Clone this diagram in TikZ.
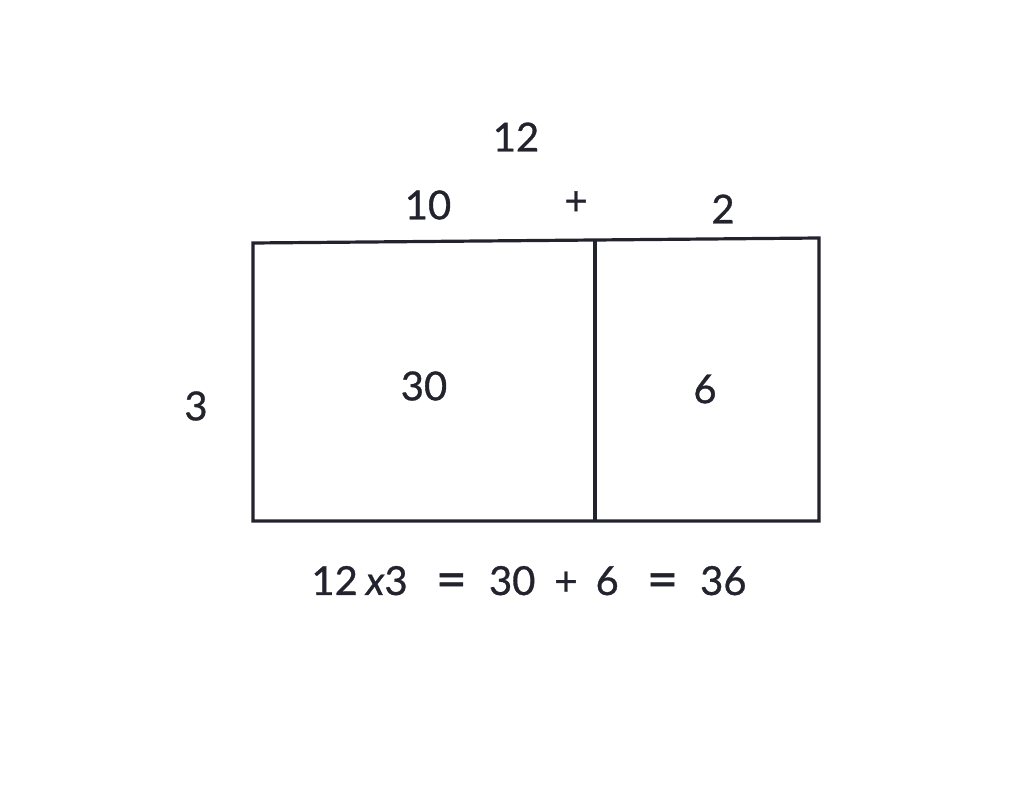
\documentclass[tikz,border=0pt]{standalone}
\usepackage{fontspec}
\setmainfont{Lato}[FakeBold=0.8]
\definecolor{ink}{HTML}{23232E}
\newcommand{\bigeq}{\raisebox{-3pt}{\fontsize{54}{60}\selectfont =}}
\begin{document}
\begin{tikzpicture}[x=1pt,y=-1pt,
  lbl/.style={text=ink,inner sep=0pt,font=\fontsize{40}{48}\selectfont},
  edge/.style={draw=ink,line width=3.2pt,line join=miter}]
\useasboundingbox (0,0) rectangle (1024,802);
\coordinate (bl) at (253,521);
\coordinate (tl) at (253,243);
\coordinate (tm) at (595,240);
\coordinate (tr) at (819,238);
\coordinate (br) at (819,521);
\coordinate (bm) at (595,521);
\draw[edge] (bl) -- (tl) -- (tm) -- (tr) -- (br) -- cycle;
\draw[edge] (tm) -- (bm);
\node[lbl] (t12) at (516,137) {12};
\node[lbl] (t10) at (428,205) {10};
\node[lbl] (tplus) at (576,203) {+};
\node[lbl] (t2) at (723,209) {2};
\node[lbl] (t3) at (196,406) {3};
\node[lbl] (t30) at (424,386) {30};
\node[lbl] (t6) at (705,389) {6};
\node[lbl] (eq) at (529,582) {12\hspace{8pt}\textit{x}3\hspace{28pt}\bigeq\hspace{22pt}30\hspace{19pt}+\hspace{18pt}6\hspace{28pt}\bigeq\hspace{22pt}36};
\end{tikzpicture}
\end{document}
